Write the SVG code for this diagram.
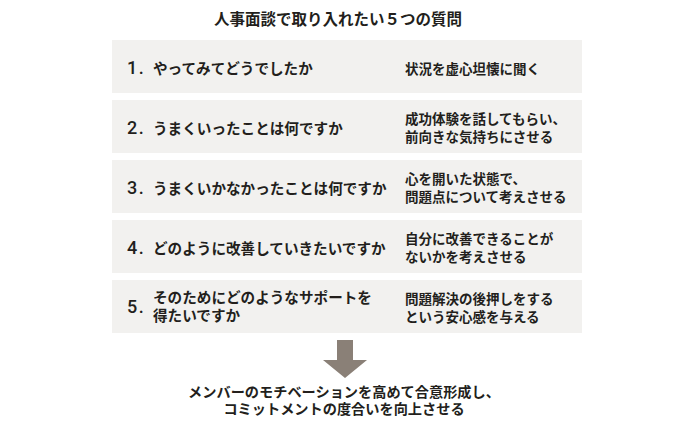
<svg xmlns="http://www.w3.org/2000/svg" width="700" height="427" viewBox="0 0 700 427">
<style>
text{font-family:"Noto Sans CJK JP","Noto Sans",sans-serif;fill:#231f1c;font-weight:600}
.box{fill:#f2f1ef}
.num{font-family:Roboto,"Liberation Sans",Arial,sans-serif;font-size:18px;font-weight:500;letter-spacing:1.5px}
.q{font-size:14.6px}
.a{font-size:13.5px}
.title{font-size:15.5px}
.foot{font-size:14.2px}
</style>
<rect width="700" height="427" fill="#ffffff"/>
<g id="title"><text class="title" x="338" y="25" text-anchor="middle">人事面談で取り入れたい５つの質問</text></g>
<g id="q1">
<rect class="box" x="112" y="40" width="470" height="53"/>
<text class="num" x="127" y="74">1.</text>
<text class="q" x="153" y="74">やってみてどうでしたか</text>
<text class="a" x="405" y="74">状況を虚心坦懐に聞く</text>
</g>
<g id="q2">
<rect class="box" x="112" y="100" width="470" height="53"/>
<text class="num" x="127" y="134">2.</text>
<text class="q" x="153" y="134">うまくいったことは何ですか</text>
<text class="a" x="405" y="124">成功体験を話してもらい、</text>
<text class="a" x="405" y="142">前向きな気持ちにさせる</text>
</g>
<g id="q3">
<rect class="box" x="112" y="160" width="470" height="53"/>
<text class="num" x="127" y="194">3.</text>
<text class="q" x="153" y="194">うまくいかなかったことは何ですか</text>
<text class="a" x="405" y="184">心を開いた状態で、</text>
<text class="a" x="405" y="202">問題点について考えさせる</text>
</g>
<g id="q4">
<rect class="box" x="112" y="220" width="470" height="53"/>
<text class="num" x="127" y="254">4.</text>
<text class="q" x="153" y="254">どのように改善していきたいですか</text>
<text class="a" x="405" y="244">自分に改善できることが</text>
<text class="a" x="405" y="262">ないかを考えさせる</text>
</g>
<g id="q5">
<rect class="box" x="112" y="280" width="470" height="53"/>
<text class="num" x="127" y="313">5.</text>
<text class="q" x="153" y="303">そのためにどのようなサポートを</text>
<text class="q" x="153" y="321">得たいですか</text>
<text class="a" x="405" y="304">問題解決の後押しをする</text>
<text class="a" x="405" y="322">という安心感を与える</text>
</g>
<g id="connectors">
<polygon points="337,340 353,340 353,360 367,360 345,378 323,360 337,360" fill="#8a8077"/>
</g>
<g id="result">
<text class="foot" x="344" y="397" text-anchor="middle">メンバーのモチベーションを高めて合意形成し、</text>
<text class="foot" x="344" y="414" text-anchor="middle">コミットメントの度合いを向上させる</text>
</g>
</svg>
